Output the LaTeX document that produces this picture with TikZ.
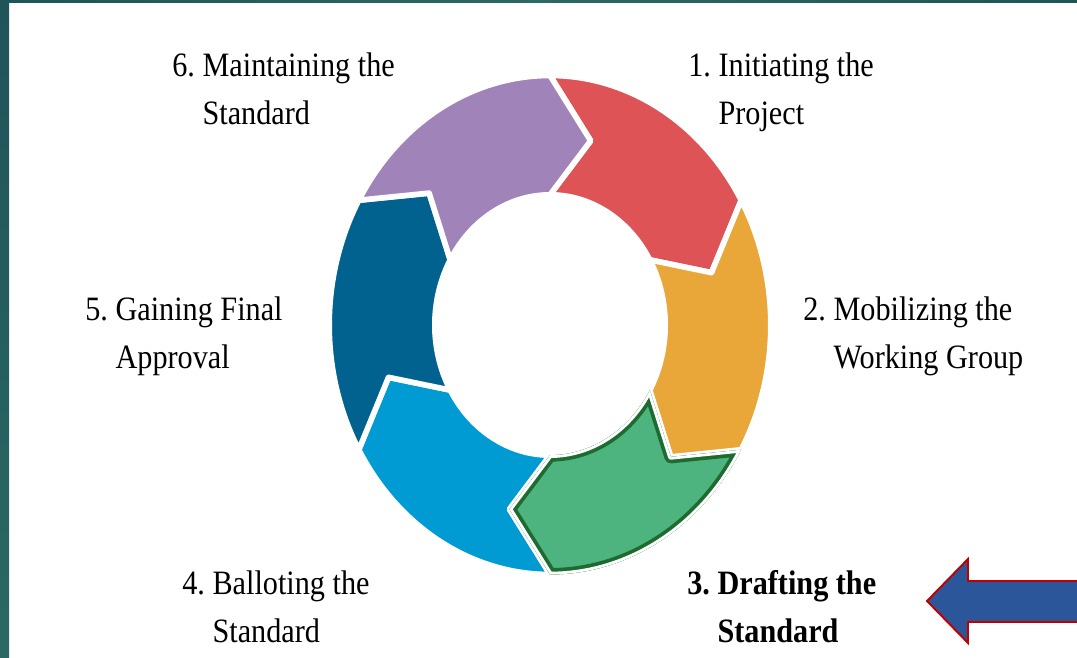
\documentclass[tikz,border=0pt]{standalone}
\usepackage{fontspec}
\setmainfont{Liberation Serif}
\usepackage{graphicx}
\usepackage{tikz}
\usetikzlibrary{positioning}

\definecolor{frameDark}{RGB}{31,84,88}
\definecolor{frameLight}{RGB}{44,104,101}
\definecolor{stageRed}{RGB}{222,84,86}
\definecolor{stageOrange}{RGB}{233,166,57}
\definecolor{stageGreen}{RGB}{77,180,127}
\definecolor{stageGreenDark}{RGB}{29,107,47}
\definecolor{stageBlue}{RGB}{0,155,211}
\definecolor{stageNavy}{RGB}{1,98,143}
\definecolor{stagePurple}{RGB}{160,131,184}
\definecolor{pointerBlue}{RGB}{43,87,154}
\definecolor{pointerRed}{RGB}{192,0,0}

\newcommand{\ringout}{220.8}
\newcommand{\ringin}{115.2}
\newcommand{\ringmid}{168}
% one 60 degree piece of the cycle, from #1 clockwise
\newcommand{\ringpart}[1]{(#1:\ringout) arc[start angle=#1, end angle=#1-60, radius=\ringout]
  -- (#1-74:\ringmid) -- (#1-60:\ringin) arc[start angle=#1-60, end angle=#1, radius=\ringin]
  -- (#1-14:\ringmid) -- cycle}
\newcommand{\stagetext}[3]{\scalebox{1}[1.13]{\begin{tabular}[t]{@{}l@{\ }l@{}}#1 & #2\\ & #3\end{tabular}}}

\begin{document}
\begin{tikzpicture}[
		x=0.02cm, y=0.02cm,
		ring part/.style={
			draw=white, line width=3.2pt, line join=round,
		},
		stage label/.style={
			anchor=base west, inner sep=0pt,
			font=\fontsize{17.2}{24.1}\selectfont,
		},
	]
	\useasboundingbox (0,0) rectangle (1077,658);
	\clip (0,0) rectangle (1077,658);
	\fill[white] (0,0) rectangle (1077,658);
	\shade[top color=frameDark, bottom color=frameLight] (0,0) rectangle (9,658);
	\shade[left color=frameDark, right color=frameDark, middle color=frameLight] (0,655.5) rectangle (1077,658);

	\begin{scope}[shift={(550,333)}, yscale=1.13]
		\foreach \s/\col in {90/stageRed, 30/stageOrange, -90/stageBlue, -150/stageNavy, 150/stagePurple}
			\filldraw[ring part, fill=\col] \ringpart{\s};
		% the current step gets its own outline
		\begin{scope}
			\clip \ringpart{-30};
			\fill[stageGreen] \ringpart{-30};
			\draw[stageGreenDark, line width=7.4pt, line join=round] \ringpart{-30};
			\draw[white, line width=3.2pt, line join=round] \ringpart{-30};
		\end{scope}
	\end{scope}

	\node[stage label] (step1) at (688,581) {\stagetext{1.}{Initiating the}{Project}};
	\node[stage label] (step2) at (803,337) {\stagetext{2.}{Mobilizing the}{Working Group}};
	\node[stage label, font=\fontsize{17.2}{24.1}\selectfont\bfseries] (step3) at (687,63) {\stagetext{3.}{Drafting the}{Standard}};
	\node[stage label] (step4) at (182,63) {\stagetext{4.}{Balloting the}{Standard}};
	\node[stage label] (step5) at (85,337) {\stagetext{5.}{Gaining Final}{Approval}};
	\node[stage label] (step6) at (172,581) {\stagetext{6.}{Maintaining the}{Standard}};

	\filldraw[fill=pointerBlue, draw=pointerRed, line width=1.1pt, line join=miter]
		(1090,36) -- (968,36) -- (968,15) -- (927,57) -- (968,99) -- (968,77) -- (1090,77) -- cycle;
\end{tikzpicture}
\end{document}
